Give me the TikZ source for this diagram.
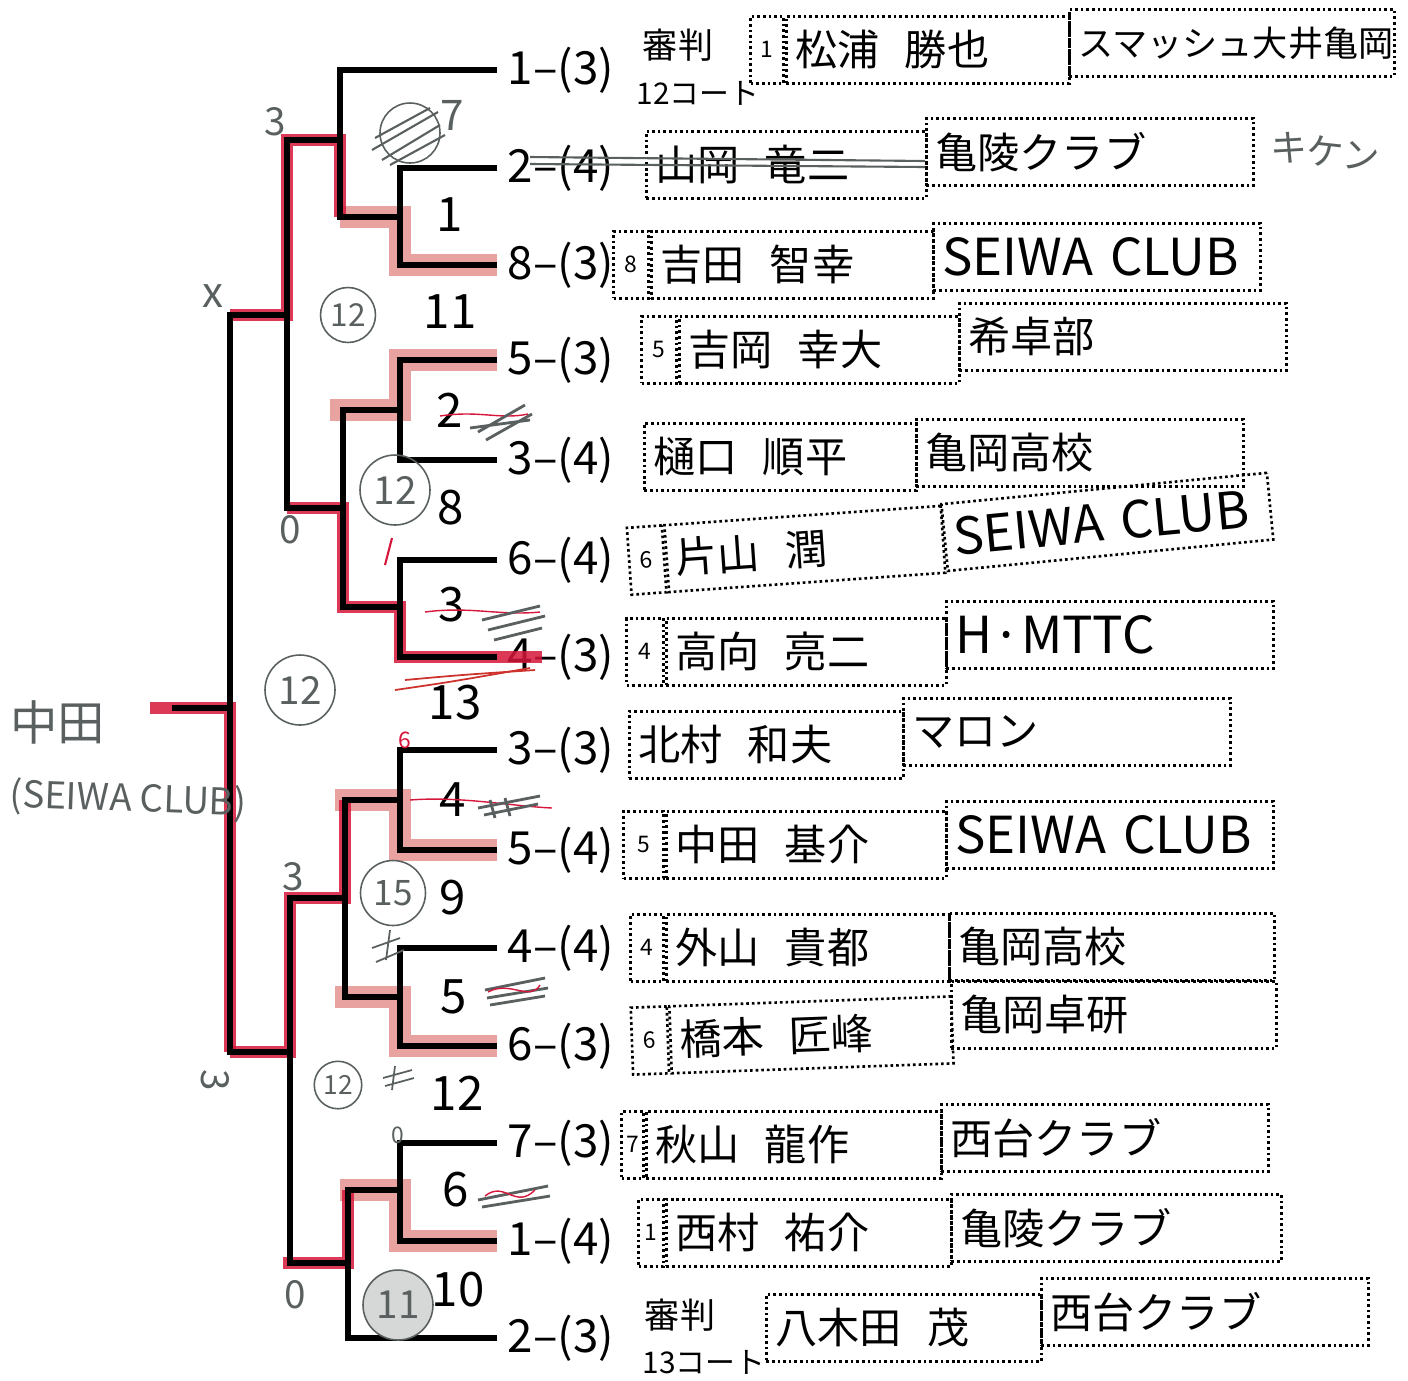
\documentclass[tikz,border=0pt]{standalone}
\usepackage{fontspec}
\setmainfont{Noto Sans CJK JP}
\usetikzlibrary{positioning}
\definecolor{inkred}{RGB}{214,22,58}
\definecolor{crayon}{RGB}{205,50,45}
\definecolor{pencil}{RGB}{90,96,96}
\newcommand\ptsize[1]{\fontsize{#1}{#1}\selectfont}
\newcommand\namegap{\hspace{.6em}}

\begin{document}
\begin{tikzpicture}[x=0.02cm,y=-0.02cm,
	wire/.style={line width=3pt},
	win/.style={inkred,line width=7pt,opacity=.85},
	faint/.style={crayon,line width=12pt,opacity=.45},
	entry/.style={anchor=west,inner xsep=6pt,inner ysep=0pt,font=\ptsize{26}},
	rnd/.style={inner sep=0pt,font=\ptsize{27}},
	cell/.style={draw,line width=1.5pt,dash pattern=on 1.5pt off 1.7pt,anchor=north west,minimum height=1.34cm,inner xsep=.18cm,align=left},
	namebox/.style={cell,text width=5.24cm,font=\ptsize{24}},
	clubbox/.style={cell,text width=6.18cm,font=\ptsize{24}},
	seedbox/.style={cell,anchor=north east,minimum width=.7cm,inner xsep=0pt,align=center,font=\ptsize{13}},
	hand/.style={pencil,inner sep=1pt},
	ring/.style={hand,draw,circle,line width=.9pt},
	scrib/.style={pencil,line width=1.6pt},
	redline/.style={inkred,line width=.8pt}]
	\useasboundingbox (0,0) rectangle (1408,1380);

	\node[entry] (p1) at (497,70) {1–(3)};
	\node[entry] (p2) at (497,168) {2–(4)};
	\node[entry] (p3) at (497,265) {8–(3)};
	\node[entry] (p4) at (497,360) {5–(3)};
	\node[entry] (p5) at (497,460) {3–(4)};
	\node[entry] (p6) at (497,560) {6–(4)};
	\node[entry] (p7) at (497,657) {4–(3)};
	\node[entry] (p8) at (497,750) {3–(3)};
	\node[entry] (p9) at (497,850) {5–(4)};
	\node[entry] (p10) at (497,948) {4–(4)};
	\node[entry] (p11) at (497,1046) {6–(3)};
	\node[entry] (p12) at (497,1143) {7–(3)};
	\node[entry] (p13) at (497,1241) {1–(4)};
	\node[entry] (p14) at (497,1338) {2–(3)};

	\coordinate (j1) at (400,217);
	\coordinate (j7) at (340,140);
	\coordinate (j2) at (400,410);
	\coordinate (j3) at (400,607);
	\coordinate (j8) at (343,508);
	\coordinate (j11) at (287,315);
	\coordinate (j4) at (400,800);
	\coordinate (j5) at (400,997);
	\coordinate (j9) at (345,898);
	\coordinate (j6) at (400,1190);
	\coordinate (j10) at (348,1263);
	\coordinate (j12) at (290,1052);
	\coordinate (j13) at (230,708);
	\coordinate (champ) at (172,708);

	\draw[faint] (p3.west) -| (j1) -- (j1 -| j7);
	\draw[win] (j1 -| j7) -- (j7) -- (j7 -| j11) -- (j11) -- (j11 -| j13);
	\draw[faint] (p4.west) -| (j2) -- ++(-70,0);
	\draw[win] (p7.west) ++(45,0) -- (p7.west) -| (j3) -| (j8) -- (j8 -| j11);
	\draw[faint] (p9.west) -| (j4) -- ++(-65,0);
	\draw[win] (j4 -| j9) -- (j9) -| (j12) -- (j12 -| j13);
	\draw[faint] (p11.west) -| (j5) -- ++(-65,0);
	\draw[faint] (p13.west) -| (j6) -- ++(-60,0);
	\draw[win] (j6 -| j10) -- (j10) -- ++(-65,0);
	\draw[win] (j13 |- j12) -- (j13) -- ++(-80,0);
	\draw[crayon,line width=1pt] (395,690) .. controls (450,682) .. (530,668);
	\draw[crayon,line width=1pt] (405,680) .. controls (460,675) .. (535,670);

	\draw[wire] (p2.west) -| (j1) |- (p3.west);
	\draw[wire] (p1.west) -| (j7) |- (j1);
	\draw[wire] (p4.west) -| (j2) |- (p5.west);
	\draw[wire] (p6.west) -| (j3) |- (p7.west);
	\draw[wire] (j2) -| (j8) |- (j3);
	\draw[wire] (j7) -| (j11) |- (j8);
	\draw[wire] (p8.west) -| (j4) |- (p9.west);
	\draw[wire] (p10.west) -| (j5) |- (p11.west);
	\draw[wire] (j4) -| (j9) |- (j5);
	\draw[wire] (p12.west) -| (j6) |- (p13.west);
	\draw[wire] (j6) -| (j10) |- (p14.west);
	\draw[wire] (j9) -| (j12) |- (j10);
	\draw[wire] (j11) -| (j13) |- (j12);
	\draw[wire] (j13) -- (champ);

	\node[rnd] (w1) at (450,215) {1};
	\node[rnd] (w11) at (450,312) {11};
	\node[rnd] (w2) at (450,410) {2};
	\node[rnd] (w8) at (451,508) {8};
	\node[rnd] (w3) at (452,605) {3};
	\node[rnd] (w13) at (455,703) {13};
	\node[rnd] (w4) at (453,800) {4};
	\node[rnd] (w9) at (453,898) {9};
	\node[rnd] (w5) at (454,997) {5};
	\node[rnd] (w12) at (457,1093) {12};
	\node[rnd] (w6) at (456,1190) {6};
	\node[rnd] (w10) at (458,1290) {10};

	\node[font=\ptsize{20}] (ref1) at (678,45) {審判};
	\node[font=\ptsize{17}] (ct1) at (698,93) {12コート};
	\node[font=\ptsize{20}] (ref14) at (680,1315) {審判};
	\node[font=\ptsize{17}] (ct14) at (704,1362) {13コート};

	\node[namebox,text width=5.3cm] (n1) at (785,15) {松浦\namegap 勝也};
	\node[seedbox,minimum width=.66cm] (s1) at (n1.north west) {1};
	\node[clubbox,text width=6.14cm,font=\ptsize{20}] (k1) at (1068,8) {スマッシュ大井亀岡};

	\node[namebox] (n2) at (645,130) {山岡\namegap 竜二};
	\node[clubbox] (k2) at (925,117) {亀陵クラブ};

	\node[namebox,text width=5.28cm] (n3) at (650,230) {吉田\namegap 智幸};
	\node[seedbox] (s3) at (n3.north west) {8};
	\node[clubbox,font=\ptsize{29}] (k3) at (932,222) {SEIWA CLUB};

	\node[namebox] (n4) at (678,315) {吉岡\namegap 幸大};
	\node[seedbox] (s4) at (n4.north west) {5};
	\node[clubbox] (k4) at (958,302) {希卓部};

	\node[namebox,text width=5.08cm] (n5) at (643,422) {樋口\namegap 順平};
	\node[clubbox] (k5) at (915,418) {亀岡高校};

	\node[namebox,text width=5.18cm,rotate=4] (n6) at (663,524) {片山\namegap 潤};
	\node[seedbox,rotate=4] (s6) at (n6.north west) {6};
	\node[clubbox,font=\ptsize{29},rotate=5.5] (k6) at (940,503) {SEIWA CLUB};

	\node[namebox] (n7) at (665,617) {高向\namegap 亮二};
	\node[seedbox,minimum width=.74cm] (s7) at (n7.north west) {4};
	\node[clubbox,font=\ptsize{29}] (k7) at (945,600) {H·MTTC};

	\node[namebox,text width=5.12cm] (n8) at (628,710) {北村\namegap 和夫};
	\node[clubbox] (k8) at (902,697) {マロン};

	\node[namebox] (n9) at (665,810) {中田\namegap 基介};
	\node[seedbox,minimum width=.8cm] (s9) at (n9.north west) {5};
	\node[clubbox,font=\ptsize{29}] (k9) at (945,800) {SEIWA CLUB};

	\node[namebox,text width=5.3cm] (n10) at (665,913) {外山\namegap 貴都};
	\node[seedbox,minimum width=.66cm] (s10) at (n10.north west) {4};
	\node[clubbox,text width=6.14cm] (k10) at (948,912) {亀岡高校};

	\node[namebox,text width=5.28cm,rotate=2] (n11) at (668,1005) {橋本\namegap 匠峰};
	\node[seedbox,minimum width=.72cm,rotate=2] (s11) at (n11.north west) {6};
	\node[clubbox,text width=6.14cm] (k11) at (950,980) {亀岡卓研};

	\node[namebox,text width=5.54cm] (n12) at (645,1110) {秋山\namegap 龍作};
	\node[seedbox,minimum width=.44cm] (s12) at (n12.north west) {7};
	\node[clubbox] (k12) at (940,1103) {西台クラブ};

	\node[namebox,text width=5.34cm] (n13) at (665,1198) {西村\namegap 祐介};
	\node[seedbox,minimum width=.5cm] (s13) at (n13.north west) {1};
	\node[clubbox,text width=6.24cm] (k13) at (950,1193) {亀陵クラブ};

	\node[namebox,text width=5.14cm] (n14) at (765,1293) {八木田\namegap 茂};
	\node[clubbox] (k14) at (1040,1277) {西台クラブ};

	\draw[pencil,line width=1.2pt] (530,157) -- (925,161);
	\draw[pencil,line width=1.2pt] (530,164) -- (925,167);
	\node[hand,font=\ptsize{21},rotate=-6] (kiken) at (1325,152) {キケン};

	\node[hand,font=\ptsize{27}] (winner) at (58,722) {中田};
	\node[hand,font=\ptsize{21},rotate=-2] (wclub) at (128,800) {(SEIWA CLUB)};

	\node[hand,font=\ptsize{22}] (sc1) at (275,122) {3};
	\node[hand,font=\ptsize{24}] (sc2) at (213,296) {x};
	\node[hand,font=\ptsize{22}] (sc3) at (290,530) {0};
	\node[hand,font=\ptsize{22}] (sc4) at (293,877) {3};
	\node[hand,font=\ptsize{22},rotate=-90] (sc5) at (215,1080) {3};
	\node[hand,font=\ptsize{22}] (sc6) at (295,1295) {0};
	\node[hand,font=\ptsize{13}] (sc7) at (398,1135) {0};
	\node[inkred,inner sep=0pt,font=\ptsize{13}] (sc8) at (405,740) {6};
	\draw[redline,line width=1.2pt] (392,538) -- (385,565);

	\node[ring,minimum size=1.2cm] (r7) at (410,133) {};
	\draw[scrib,line width=1.2pt] (372,150) -- (438,112) (382,160) -- (440,125) (375,138) -- (430,108) (390,165) -- (445,135);
	\node[hand,font=\ptsize{24}] (r7b) at (452,115) {7};
	\node[ring,minimum size=1.1cm,font=\ptsize{18}] (r11) at (348,315) {12};
	\node[ring,minimum size=1.4cm,font=\ptsize{22}] (r8) at (395,490) {12};
	\node[ring,minimum size=1.4cm,font=\ptsize{22}] (r13) at (300,690) {12};
	\node[ring,minimum size=1.3cm,font=\ptsize{20}] (r9) at (393,893) {15};
	\node[ring,minimum size=.95cm,font=\ptsize{15}] (r12) at (338,1085) {12};
	\node[ring,minimum size=1.4cm,font=\ptsize{22},fill=pencil!25] (r10) at (398,1305) {11};

	\draw[redline] (440,416) .. controls (480,410) and (500,420) .. (528,414);
	\draw[scrib] (478,432) -- (525,405) (486,440) -- (532,414) (470,428) -- (530,420);
	\draw[redline] (425,612) .. controls (470,606) and (500,616) .. (540,612);
	\draw[scrib] (482,620) -- (540,606) (488,630) -- (545,616) (494,640) -- (542,628);
	\draw[redline] (410,800) .. controls (460,796) and (510,806) .. (552,808);
	\draw[scrib] (478,808) -- (540,796) (484,815) -- (538,804) (490,800) -- (495,818) (505,798) -- (510,816);
	\draw[scrib] (485,990) -- (545,978) (487,998) -- (548,988) (490,1005) -- (545,996);
	\draw[redline] (488,992) .. controls (510,980) and (530,1002) .. (540,985);
	\draw[scrib] (478,1200) -- (548,1186) (482,1207) -- (550,1196);
	\draw[redline] (485,1196) .. controls (505,1180) and (515,1210) .. (535,1190);
	\draw[scrib,line width=1pt] (383,1078) -- (412,1070) (385,1086) -- (414,1078) (395,1066) -- (392,1090);
	\draw[scrib,line width=1pt] (372,948) -- (400,938) (376,962) -- (404,950) (390,930) -- (386,960);
\end{tikzpicture}
\end{document}
